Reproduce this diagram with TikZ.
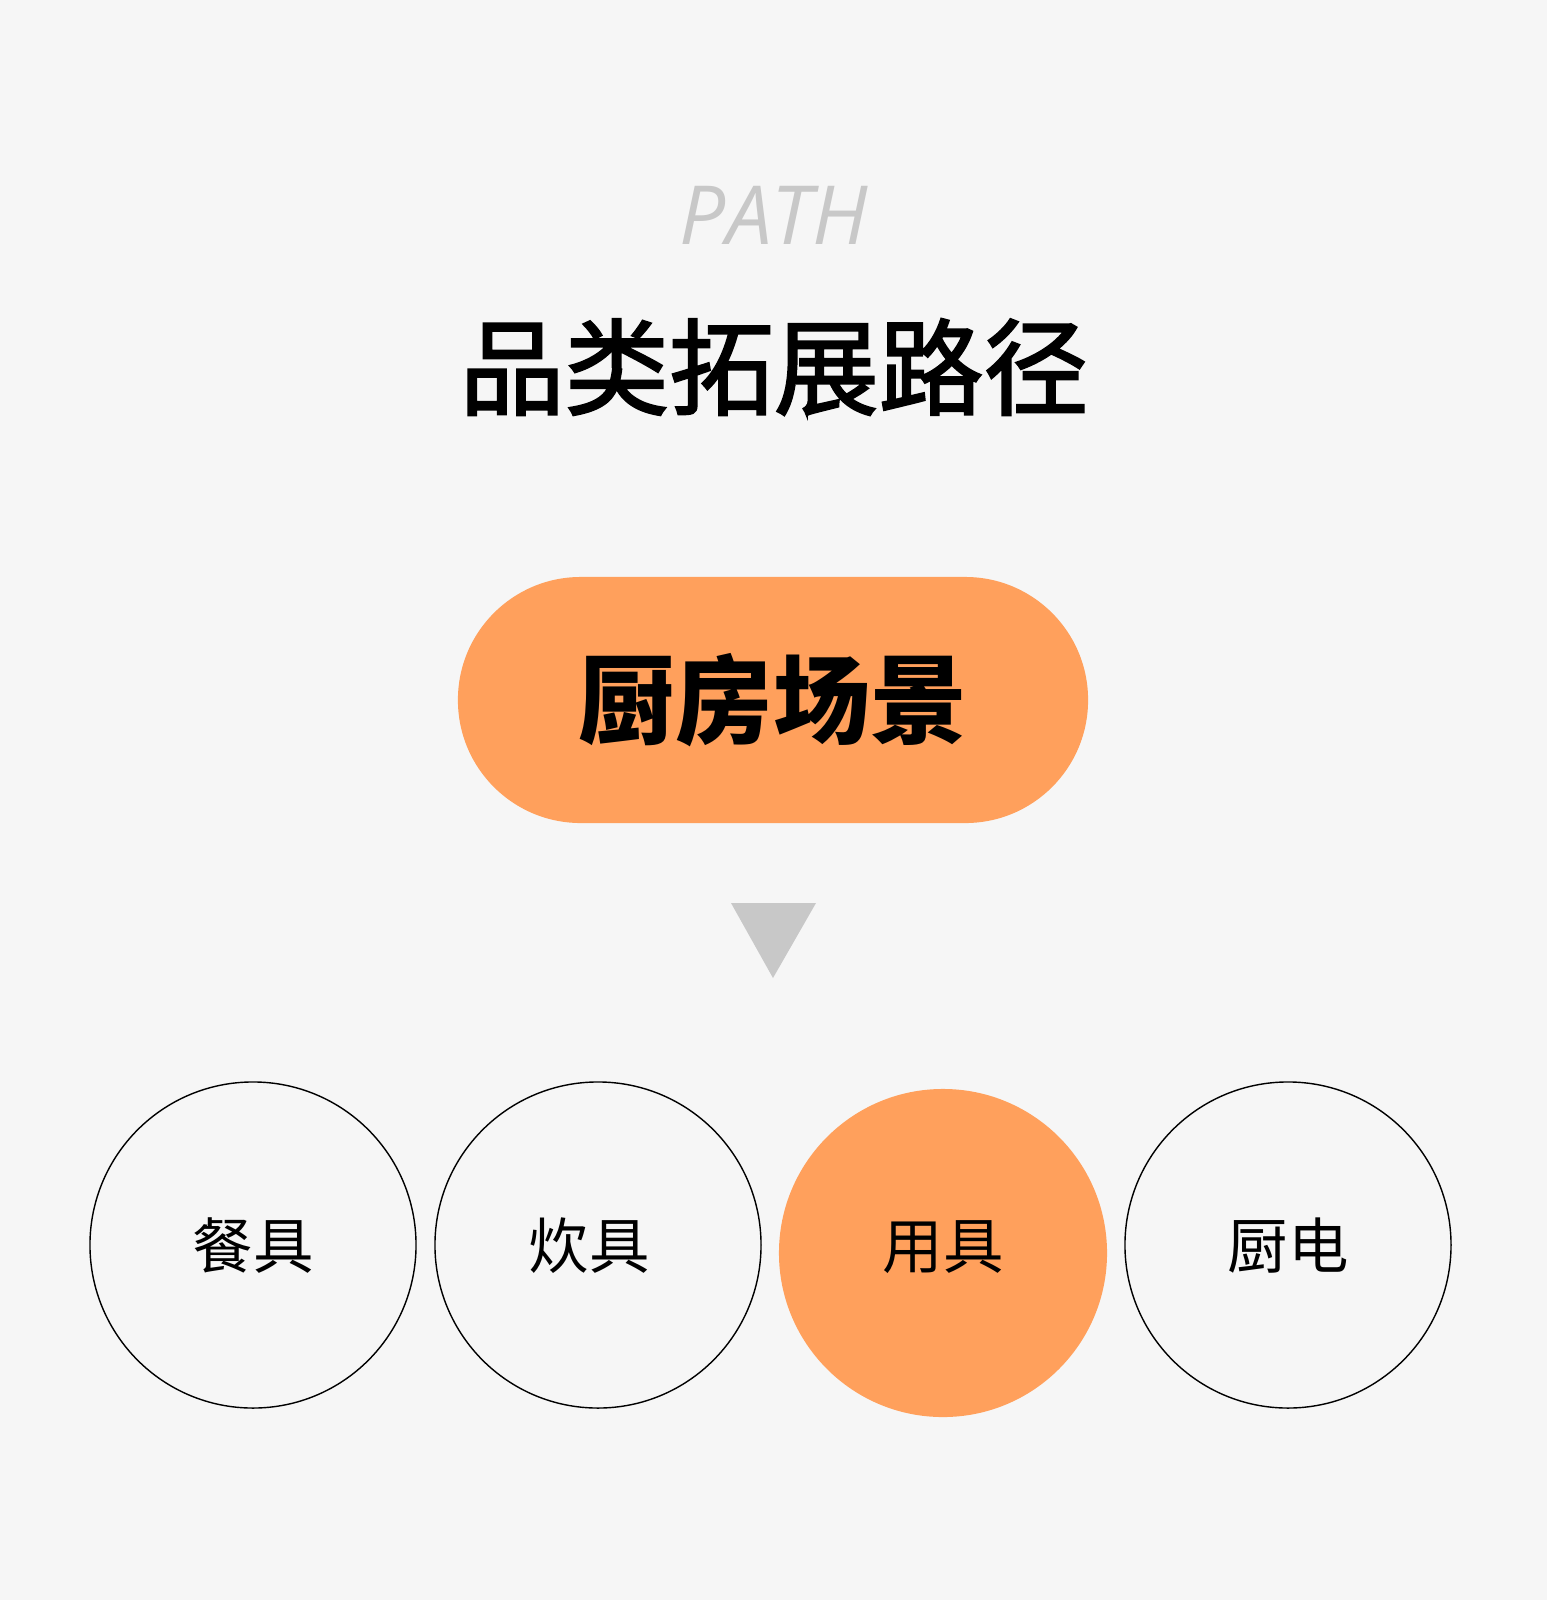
\documentclass[tikz,border=0pt]{standalone}
\usepackage{fontspec}
\newfontfamily\cjk{Noto Sans CJK SC}
\newfontfamily\cjkmid[FakeBold=2]{Noto Sans CJK SC}
\newfontfamily\pathfont{Open Sans}
\definecolor{bggray}{HTML}{F6F6F6}
\definecolor{softorange}{HTML}{FFA05C}
\definecolor{paleink}{HTML}{C8C8C8}
\tikzset{
  ring/.style={circle, draw=black, line width=1pt, minimum size=8.15cm, inner sep=0pt},
  dot/.style={circle, fill=softorange, minimum size=8.2cm, inner sep=0pt},
  itemtext/.style={inner sep=0pt, font=\cjk\fontsize{43}{50}\selectfont},
  pill/.style={rectangle, fill=softorange, rounded corners=3.07cm, minimum width=15.75cm, minimum height=6.15cm, inner sep=0pt, font=\cjk\bfseries\fontsize{69}{80}\selectfont}
}

\begin{document}
\begin{tikzpicture}[x=0.025cm, y=-0.025cm]
\fill[bggray] (0,0) rectangle (1547,1600);
\useasboundingbox (0,0) rectangle (1547,1600);
% heading
\node[inner sep=0pt, text=paleink, font=\pathfont\itshape\fontsize{58}{66}\selectfont] (path) at (774,215) {PATH};
\node[inner sep=0pt, font=\cjkmid\fontsize{74.5}{86}\selectfont] (title) at (774,367) {品类拓展路径};
% scene
\node[pill] (scene) at (773,700) {厨房场景};
\fill[paleink] (731,903) -- (816,903) -- (773,978) -- cycle;
% items
\node[ring] (canju) at (253,1245) {};
\node[itemtext] (canjutext) at (253,1246) {餐具};
\node[ring] (chuiju) at (598,1245) {};
\node[itemtext] (chuijutext) at (589,1246) {炊具};
\node[dot] (yongju) at (943,1253) {};
\node[itemtext] (yongjutext) at (943,1247) {用具};
\node[ring] (chudian) at (1288,1245) {};
\node[itemtext] (chudiantext) at (1288,1246) {厨电};
\end{tikzpicture}
\end{document}
